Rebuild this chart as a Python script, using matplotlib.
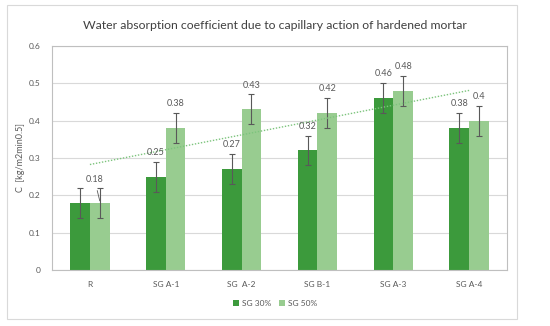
import numpy as np
import matplotlib
matplotlib.use('Agg')
import matplotlib.pyplot as plt
from matplotlib.patches import Rectangle

plt.rcParams['font.family'] = ['Lato', 'DejaVu Sans']

# Données
categories = ['R', 'SG A-1', 'SG  A-2', 'SG B-1', 'SG A-3', 'SG A-4']
sg30 = [0.18, 0.25, 0.27, 0.32, 0.46, 0.38]
sg50 = [0.18, 0.38, 0.43, 0.42, 0.48, 0.40]
err30 = [0.04, 0.04, 0.04, 0.04, 0.04, 0.04]
err50 = [0.04, 0.04, 0.04, 0.04, 0.04, 0.04]
labels30 = ['0.18', '0.25', '0.27', '0.32', '0.46', '0.38']
labels50 = ['', '0.38', '0.43', '0.42', '0.48', '0.4']

c_dark = '#3c9a3c'
c_light = '#98cc90'
gris = '#595959'

fig = plt.figure(figsize=(5.5, 3.26), dpi=100)
ax = fig.add_axes([0.0945, 0.172, 0.8275, 0.687])

# cadre extérieur
fig.patches.append(Rectangle((7/550, 1-319/326), 510/550, 314/326, transform=fig.transFigure,
                             fill=False, edgecolor='#d9d9d9', linewidth=0.8))

x = np.arange(len(categories))
w = 0.26
ax.bar(x - w/2, sg30, w, color=c_dark, label='SG 30%', zorder=2)
ax.bar(x + w/2, sg50, w, color=c_light, label='SG 50%', zorder=2)
ax.errorbar(x - w/2, sg30, yerr=err30, fmt='none', ecolor=gris, elinewidth=0.8, capsize=2, capthick=0.8, zorder=3)
ax.errorbar(x + w/2, sg50, yerr=err50, fmt='none', ecolor=gris, elinewidth=0.8, capsize=2, capthick=0.8, zorder=3)

# tendance linéaire de la série SG 50%
a, b = np.polyfit(x, sg50, 1)
ax.plot(x, a*x + b, linestyle=(0, (1, 1.2)), color='#7cc47c', linewidth=1.0, zorder=4)

# étiquettes
for i in range(len(categories)):
    if i == 0:
        ax.annotate(labels30[i], xy=(x[i] + w/2, sg30[i] + 0.005), xytext=(x[i] + 0.06, 0.243),
                    ha='center', va='center', fontsize=6.5, color=gris,
                    arrowprops=dict(arrowstyle='-', color=gris, lw=0.6, shrinkA=3, shrinkB=0))
        continue
    ax.text(x[i] - w/2, sg30[i] + err30[i] + 0.025, labels30[i], ha='center', va='center',
            fontsize=6.5, color=gris, zorder=5)
    ax.text(x[i] + w/2, sg50[i] + err50[i] + 0.025, labels50[i], ha='center', va='center',
            fontsize=6.5, color=gris, zorder=5)

ax.set_xlim(-0.5, 5.5)
ax.set_ylim(0, 0.6)
ax.set_yticks(np.arange(0, 0.61, 0.1))
ax.set_yticklabels(['0', '0.1', '0.2', '0.3', '0.4', '0.5', '0.6'])
ax.set_xticks(x)
ax.set_xticklabels(categories)
ax.tick_params(axis='both', length=0, labelsize=6, colors=gris, pad=8)
ax.yaxis.grid(True, color='#d9d9d9', linewidth=0.8, zorder=0)
ax.set_axisbelow(True)
for s in ax.spines.values():
    s.set_color('#bfbfbf')
    s.set_linewidth(0.8)
ax.set_ylabel('C  [kg/m2min0.5]', fontsize=6.5, color=gris, labelpad=3)

fig.text(0.5, 0.923, 'Water absorption coefficient due to capillary action of hardened mortar',
         ha='center', va='center', fontsize=8.8, color='#404040')

fig.legend(loc='center', bbox_to_anchor=(0.5, 0.07), ncol=2, frameon=False, fontsize=6,
           handlelength=0.7, handleheight=0.7, handletextpad=0.3, columnspacing=1.0,
           labelcolor=gris)

fig.savefig('out.png', dpi=100)
